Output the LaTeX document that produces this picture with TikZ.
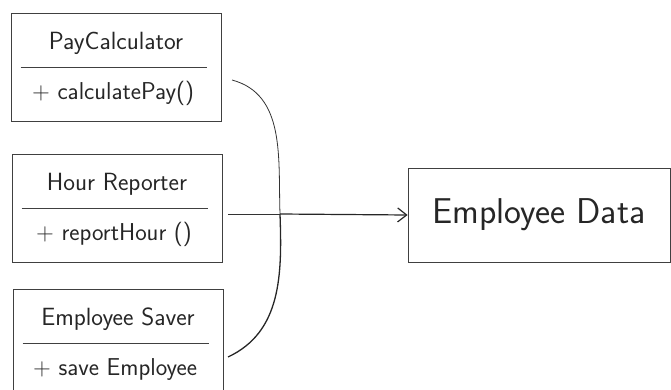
\documentclass[tikz,border=0pt]{standalone}
\usepackage{amsmath}
\usetikzlibrary{arrows.meta}

\tikzset{
  classbox/.style={draw=black!75,line width=0.8bp,minimum width=210bp,
    minimum height=108bp,inner sep=0pt},
  titletext/.style={font=\sffamily\fontsize{25}{29}\selectfont,text=black!85},
  methodtext/.style={font=\sffamily\fontsize{24.5}{28}\selectfont,text=black!85},
  datatext/.style={font=\sffamily\fontsize{36}{41}\selectfont,text=black!85},
}

\begin{document}
\begin{tikzpicture}[x=1bp,y=1bp]
    \useasboundingbox (0,0) rectangle (671,389);

    % the three class boxes with their divider
    \foreach \n/\cx/\cy/\name/\method in {
      pay/116/322/{PayCalculator}/{+ calculatePay()},
      hour/117/181/{Hour Reporter}/{+ reportHour ()},
      saver/118/46/{Employee Saver}/{+ save Employee} } {
      \node[classbox] (\n) at (\cx,\cy) {};
      \node[titletext] (\n title) at ([yshift=24]\n.center) {\name};
      \node[methodtext] (\n method) at ([xshift=-3,yshift=-27]\n.center)
      {\method};
      \draw[black!75,line width=0.7bp] ([xshift=10]\n.west) --
      ([xshift=-14]\n.east); }

    % the data box
    \node[draw=black!75,line width=0.8bp,minimum width=262bp,
    minimum height=94bp,inner sep=0pt] (data) at (539,174) {};
    \node[datatext] (data text) at (data.center) {Employee Data};

    % points of the bracket
    \coordinate (top) at (232,309);
    \coordinate (join) at (280,175);
    \coordinate (bottom) at (228,32);
    \coordinate (mid) at (228,175);

    % the bracket
    \draw[black!80,line width=0.8bp] (top) to[out=-15,in=92] (join);
    \draw[black!85,line width=1.3bp] (join) to[out=-88,in=25] (bottom);
    % the line from the middle box and the arrow
    \draw[black!80,line width=0.8bp] (mid) -- (join);
    \draw[black!85,line width=1.2bp,
    -{Straight Barb[length=9bp,width=14bp]}] (join) -- (data.west);
  \end{tikzpicture}
\end{document}
